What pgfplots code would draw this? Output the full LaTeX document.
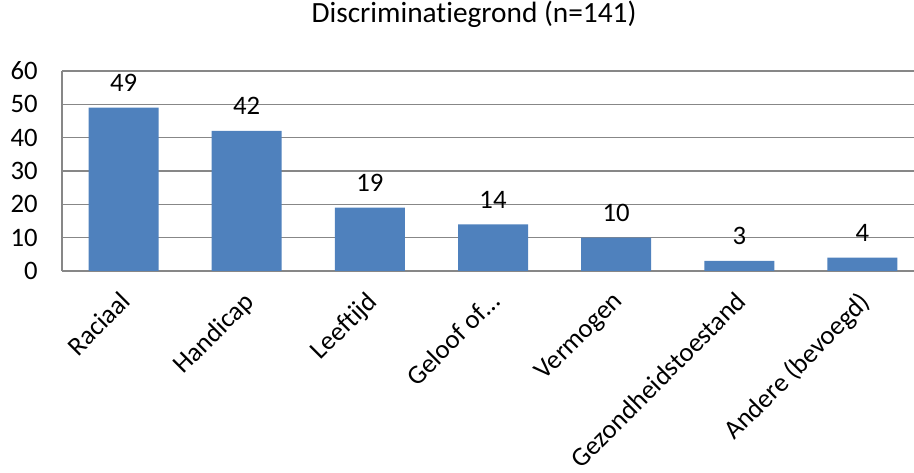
\documentclass[border=0pt]{standalone}
\usepackage{pgfplots}
\pgfplotsset{compat=1.18}
\usepackage{fontspec}
\setmainfont{Carlito}[Ligatures=NoCommon]
\definecolor{barblue}{HTML}{4F81BD}
\definecolor{gridgray}{HTML}{878787}
\begin{document}
\begin{tikzpicture}
\fontsize{20pt}{24pt}\selectfont
\clip (-46.5pt,-151.5pt) rectangle (639pt,203.25pt);
\begin{axis}[
  at={(0,0)}, anchor=south west,
  scale only axis,
  width=646.5pt, height=150pt,
  xmin=-0.5, xmax=6.5,
  ymin=0, ymax=60,
  ytick={0,10,...,60},
  xtick=data,
  xticklabels={Raciaal,Handicap,Leeftijd,Geloof of\ldots,Vermogen,Gezondheidstoestand,Andere (bevoegd)},
  major tick length=0pt,
  ymajorgrids,
  grid style={gridgray, line width=0.9pt},
  axis x line*=bottom,
  axis y line*=left,
  axis line style={gridgray, line width=0.9pt, -},
  /pgf/number format/assume math mode=true,
  tick label style={font=\fontsize{20pt}{24pt}\selectfont},
  yticklabel style={inner sep=0pt, xshift=-18pt},
  xticklabel style={inner sep=0pt, xshift=-3.5pt, yshift=-14pt, rotate=45, anchor=north east},
  title={Discriminatiegrond (n=141)},
  title style={at={(axis description cs:0.478,1.245)}, anchor=center, font=\fontsize{22pt}{26pt}\selectfont},
  ybar, bar width=52.5pt,
  nodes near coords,
  nodes near coords style={font=\fontsize{20pt}{24pt}\selectfont, inner sep=0pt, anchor=south, yshift=12pt, text=black},
]
\addplot[fill=barblue, draw=none] coordinates {(0,49) (1,42) (2,19) (3,14) (4,10) (5,3) (6,4)};
\end{axis}
\end{tikzpicture}
\end{document}
